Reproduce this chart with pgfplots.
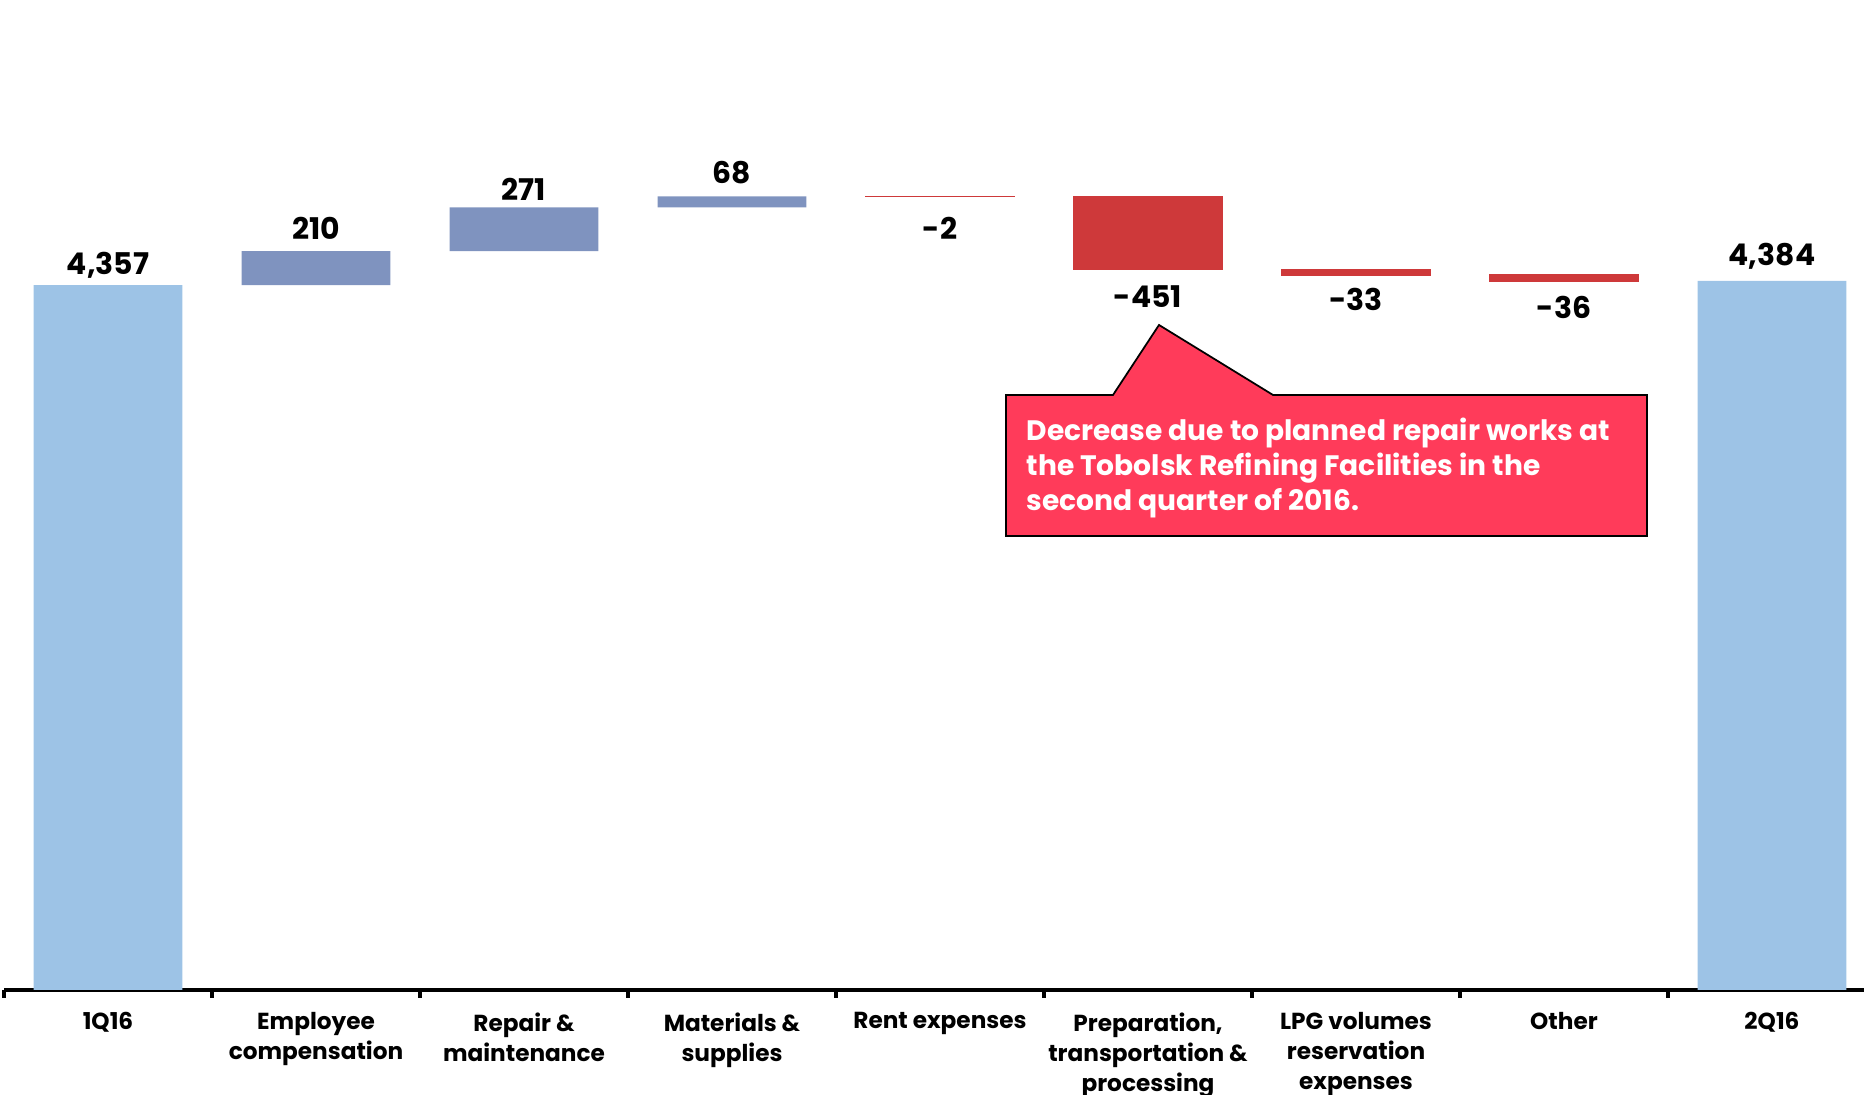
\documentclass[border=0pt]{standalone}
\usepackage{fontspec}
\setmainfont{Poppins}
\usepackage{pgfplots}
\pgfplotsset{compat=1.18}
\usepackage{pgfplotstable}

\definecolor{totalblue}{RGB}{157,195,230}
\definecolor{posblue}{RGB}{127,147,191}
\definecolor{negred}{RGB}{206,57,58}
\definecolor{callout}{RGB}{255,59,90}

% waterfall, rising part: invisible base + visible step
\pgfplotstableread{
x base total up
0 0    4357 0
1 4357 0    210
2 4567 0    271
3 4838 0    68
8 0    4384 0
}\wfup

% falling part: base is the new (lower) level
\pgfplotstableread{
x base down
4 4904 2
5 4453 451
6 4420 33
7 4384 36
}\wfdown

% value labels (centre height in data units)
\pgfplotstableread{
x y label
0 4482 4,357
1 4710 210
2 4952 271
3 5055 68
4 4710 -2
5 4284 -451
6 4269 -33
7 4217 -36
8 4533 4,384
}\wflabels

\pgfplotsset{wf/.style={scale only axis, width=187.2mm, height=99mm,
    xmin=-0.5, xmax=8.5, ymin=0, ymax=6120, clip=false}}

\begin{document}
\begin{tikzpicture}
\begin{axis}[wf, name=main,
    ybar stacked, bar width=0.714,
    axis y line=none, axis x line*=bottom,
    axis line style={line width=1.4pt},
    xtick={0,...,8}, major tick length=0pt,
    minor xtick={-0.5,0.5,...,8.5}, minor tick length=0.8mm,
    tick align=outside, minor tick style={line width=1.4pt, black},
    xticklabels={1Q16, Employee\\compensation, Repair \&\\maintenance,
        Materials \&\\supplies, Rent expenses,
        {Preparation,\\transportation \&\\processing},
        LPG volumes\\reservation\\expenses, Other, 2Q16},
    xticklabel style={font=\fontsize{6.6}{8.5}\selectfont\bfseries,
        align=center, anchor=north, inner sep=0pt, yshift=-2.2mm},
]
\addplot[draw=none, fill=none] table[x=x, y=base] \wfup;
\addplot[fill=totalblue, draw=none] table[x=x, y=total] \wfup;
\addplot[fill=posblue, draw=none] table[x=x, y=up] \wfup;
\end{axis}

\begin{axis}[wf, at={(main.south west)}, anchor=south west, hide axis,
    ybar stacked, bar width=0.714]
\addplot[draw=none, fill=none] table[x=x, y=base] \wfdown;
\addplot[fill=negred, draw=negred, line width=0.4pt] table[x=x, y=down] \wfdown;
\end{axis}

\begin{axis}[wf, at={(main.south west)}, anchor=south west, hide axis]
\addplot[draw=none, mark=none, nodes near coords, point meta=explicit symbolic,
    nodes near coords style={anchor=center, font=\fontsize{8.5}{9}\selectfont\bfseries}]
    table[x=x, y=y, meta=label] \wflabels;
\end{axis}

\begin{scope}[shift={(main.south west)}]
\draw[fill=callout, line width=0.5pt, line join=miter]
    (100.2mm,59.5mm) -- (110.9mm,59.5mm) -- (115.5mm,66.5mm) -- (126.9mm,59.5mm)
    -- (164.3mm,59.5mm) -- (164.3mm,45.4mm) -- (100.2mm,45.4mm) -- cycle;
\node[anchor=north west, align=left, text=white, inner sep=0pt,
    font=\fontsize{8}{10}\selectfont\bfseries] at (102.2mm,57.3mm)
    {Decrease due to planned repair works at\\the Tobolsk Refining Facilities in the\\second quarter of 2016.};
\end{scope}

\pgfresetboundingbox
\path[use as bounding box] (-0.4mm,-10.5mm) rectangle (186mm,99mm);
\end{tikzpicture}
\end{document}
